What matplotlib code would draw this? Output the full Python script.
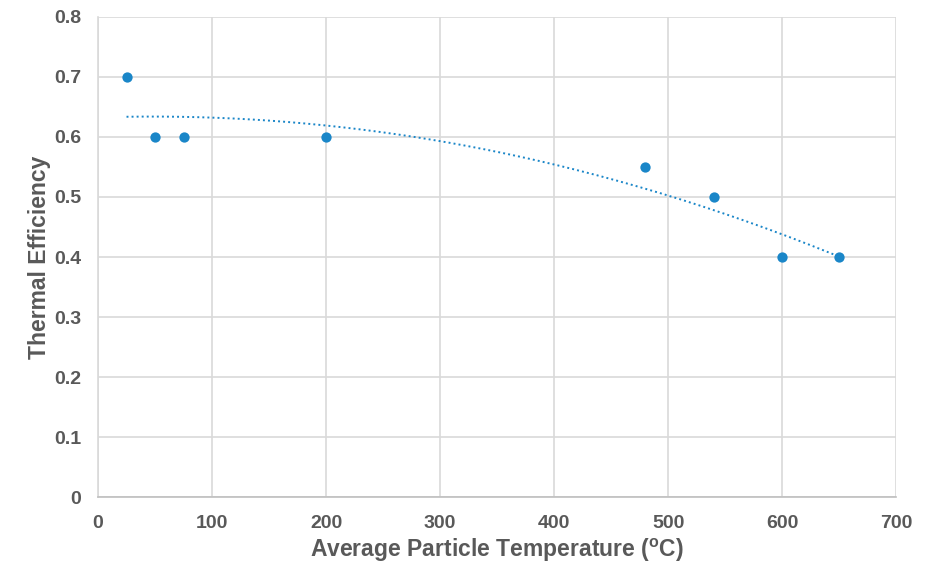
import numpy as np
import matplotlib
matplotlib.use("Agg")
import matplotlib.pyplot as plt

plt.rcParams["font.family"] = ["Liberation Sans", "DejaVu Sans"]

temperature_c = [25, 50, 75, 200, 480, 540, 600, 650]
efficiency = [0.70, 0.60, 0.60, 0.60, 0.55, 0.50, 0.40, 0.40]
x_ticks = [0, 100, 200, 300, 400, 500, 600, 700]
y_ticks = [0, 0.1, 0.2, 0.3, 0.4, 0.5, 0.6, 0.7, 0.8]
y_tick_labels = ["0", "0.1", "0.2", "0.3", "0.4", "0.5", "0.6", "0.7", "0.8"]

text_color = "#595959"
grid_color = "#d9d9d9"
point_color = "#1a86c8"

fig = plt.figure(figsize=(9.37, 5.63), dpi=100)
ax = fig.add_axes([0.1046, 0.117, 0.852, 0.853])

# second-order polynomial trendline over the data range
coeffs = np.polyfit(temperature_c, efficiency, 2)
trend_x = np.linspace(min(temperature_c), max(temperature_c), 200)
ax.plot(trend_x, np.polyval(coeffs, trend_x), color=point_color,
        linestyle=(0, (1, 1.6)), linewidth=1.4, zorder=2)

ax.scatter(temperature_c, efficiency, s=55, color=point_color, zorder=3,
           linewidths=0)

ax.set_xlim(0, 700)
ax.set_ylim(0, 0.8)
ax.set_xticks(x_ticks)
ax.set_yticks(y_ticks)
ax.set_yticklabels(y_tick_labels)
ax.grid(True, color=grid_color, linewidth=1.2, zorder=0)
ax.set_axisbelow(True)

for side in ("top", "right"):
    ax.spines[side].set_visible(False)
ax.spines["left"].set_color(grid_color)
ax.spines["left"].set_linewidth(1.2)
ax.spines["bottom"].set_color("#bfbfbf")
ax.spines["bottom"].set_linewidth(1.2)

ax.tick_params(axis="both", length=0, labelsize=14, labelcolor=text_color)
ax.tick_params(axis="x", pad=13)
ax.tick_params(axis="y", pad=12)
for label in ax.get_xticklabels() + ax.get_yticklabels():
    label.set_fontweight("bold")

ax.set_xlabel("Average Particle Temperature ($\\mathregular{^o}$C)",
              fontsize=16.5, fontweight="bold", color=text_color, labelpad=3)
ax.set_ylabel("Thermal Efficiency", fontsize=16.5, fontweight="bold",
              color=text_color, labelpad=2)

fig.savefig("out.png", dpi=100)
